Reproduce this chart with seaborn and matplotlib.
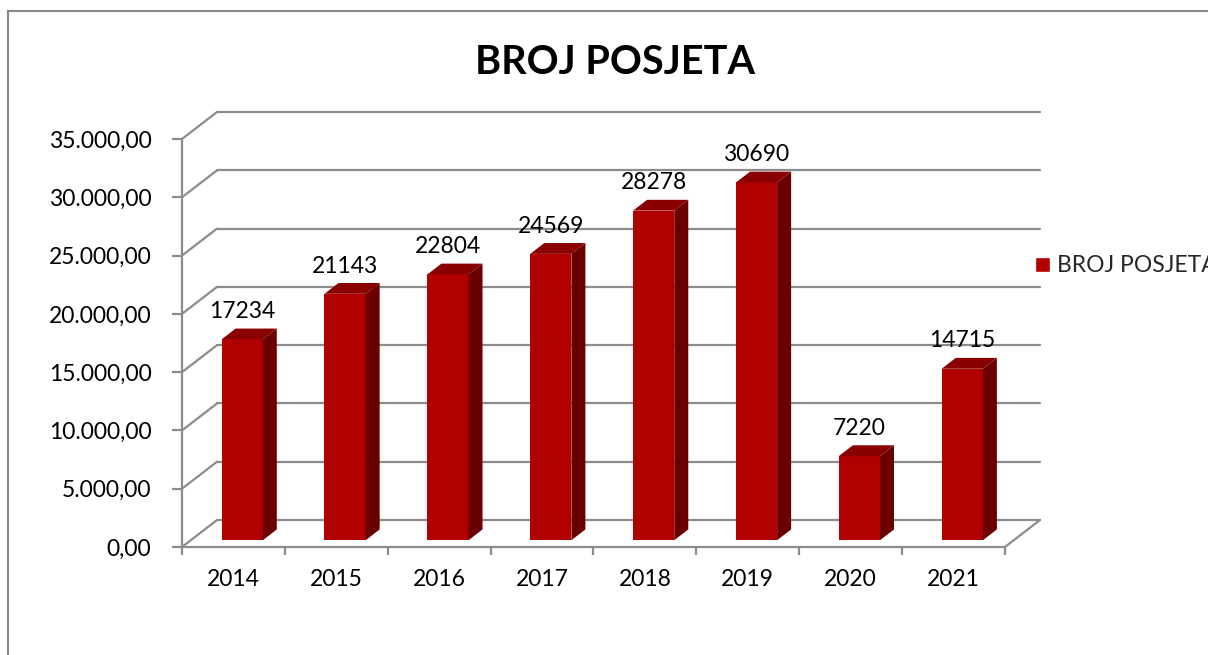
import numpy as np
import pandas as pd
import seaborn as sns
import matplotlib.pyplot as plt
from matplotlib.patches import Polygon, Rectangle
from matplotlib.ticker import FuncFormatter

# podaci
years = ['2014', '2015', '2016', '2017', '2018', '2019', '2020', '2021']
visits = [17234, 21143, 22804, 24569, 28278, 30690, 7220, 14715]
series_name = 'BROJ POSJETA'
title = 'BROJ POSJETA'
y_ticks = [0, 5000, 10000, 15000, 20000, 25000, 30000, 35000]

W, H = 1208, 655
grid_col = '#8C8C8C'
front_col = '#B00000'
side_col = '#6B0000'
top_col = '#8A0000'
fs = 16.5

sns.set_theme(style='white')
plt.rcParams['font.family'] = ['Lato', 'DejaVu Sans']

fig = plt.figure(figsize=(W / 100, H / 100), dpi=100)
ax = fig.add_axes([182 / W, 1 - 547 / H, (1040 - 182) / W, (547 - 112) / H])

df = pd.DataFrame({'year': years, 'visits': visits})
sns.barplot(data=df, x='year', y='visits', color=front_col, saturation=1,
            width=0.4, ax=ax, zorder=3, linewidth=0)

n = len(years)
ymax = y_ticks[-1]
# "dubina" 3D prikaza u jedinicama podataka
ddx = 35 / 102.75
ddy = 27 * ymax / (435 - 27)
ax.set_xlim(-0.5, n - 0.5 + ddx)
ax.set_ylim(0, ymax + ddy)

# zadnji zid i lijevi zid
for v in y_ticks:
    ax.plot([-0.5 + ddx, n - 0.5 + ddx], [v + ddy, v + ddy], color=grid_col, lw=1.6, zorder=1, clip_on=False)
    ax.plot([-0.5, -0.5 + ddx], [v, v + ddy], color=grid_col, lw=1.6, zorder=1, clip_on=False)
# pod, desni rub
ax.plot([n - 0.5, n - 0.5 + ddx], [0, ddy], color=grid_col, lw=1.6, zorder=1, clip_on=False)

# stupci: pomak prednje strane i bočne/gornje plohe
f0, bd = 0.25, 0.4
for p, v in zip(ax.patches, visits):
    p.set_x(p.get_x() + f0 * ddx)
    p.set_y(f0 * ddy)
    x0, w, y0, h = p.get_x(), p.get_width(), p.get_y(), p.get_height()
    x1, y1 = x0 + w, y0 + h
    sx, sy = bd * ddx, bd * ddy
    ax.add_patch(Polygon([(x1, y0), (x1 + sx, y0 + sy), (x1 + sx, y1 + sy), (x1, y1)],
                         closed=True, facecolor=side_col, edgecolor='none', zorder=3))
    ax.add_patch(Polygon([(x0, y1), (x1, y1), (x1 + sx, y1 + sy), (x0 + sx, y1 + sy)],
                         closed=True, facecolor=top_col, edgecolor='none', zorder=3))
    ax.annotate(str(v), xy=(x0 + w / 2, y1), xytext=(0, 20), textcoords='offset points',
                ha='center', va='center', fontsize=fs, color='black', zorder=5)

# osi
for s in ['top', 'right']:
    ax.spines[s].set_visible(False)
for s in ['left', 'bottom']:
    ax.spines[s].set_color(grid_col)
    ax.spines[s].set_linewidth(1.6)
    ax.spines[s].set_zorder(2)
ax.spines['left'].set_bounds(0, ymax)
ax.spines['bottom'].set_bounds(-0.5, n - 0.5)

ax.set_yticks(y_ticks)
ax.yaxis.set_major_formatter(FuncFormatter(
    lambda v, _: f'{v:,.2f}'.replace(',', 'X').replace('.', ',').replace('X', '.')))
ax.set_xticks(np.arange(-0.5, n, 1.0), minor=True)
ax.tick_params(axis='y', which='major', direction='out', length=7, width=1.6,
               color=grid_col, pad=15, labelsize=fs, labelcolor='black', left=True)
ax.tick_params(axis='x', which='major', length=0, pad=16, labelsize=fs, labelcolor='black')
ax.tick_params(axis='x', which='minor', direction='out', length=6, width=1.6,
               color=grid_col, bottom=True)
ax.set_xlabel('')
ax.set_ylabel('')
ax.grid(False)
ax.patch.set_alpha(0)

fig.text(615 / W, 1 - 62 / H, title, ha='center', va='center', fontsize=28.5,
         fontweight='bold', color='black')

fig.legend(handles=[Rectangle((0, 0), 1, 1, facecolor=front_col)], labels=[series_name],
           loc='center left', bbox_to_anchor=(1035 / W, 1 - 266 / H), frameon=False,
           fontsize=fs, handlelength=0.65, handleheight=0.65, handletextpad=0.3,
           borderpad=0, borderaxespad=0)

fig.add_artist(Rectangle((8 / W, -0.1), 1.2, 1 - 11 / H + 0.1, transform=fig.transFigure,
                         fill=False, edgecolor='#878787', lw=1.5))

fig.savefig('out.png', dpi=100)
